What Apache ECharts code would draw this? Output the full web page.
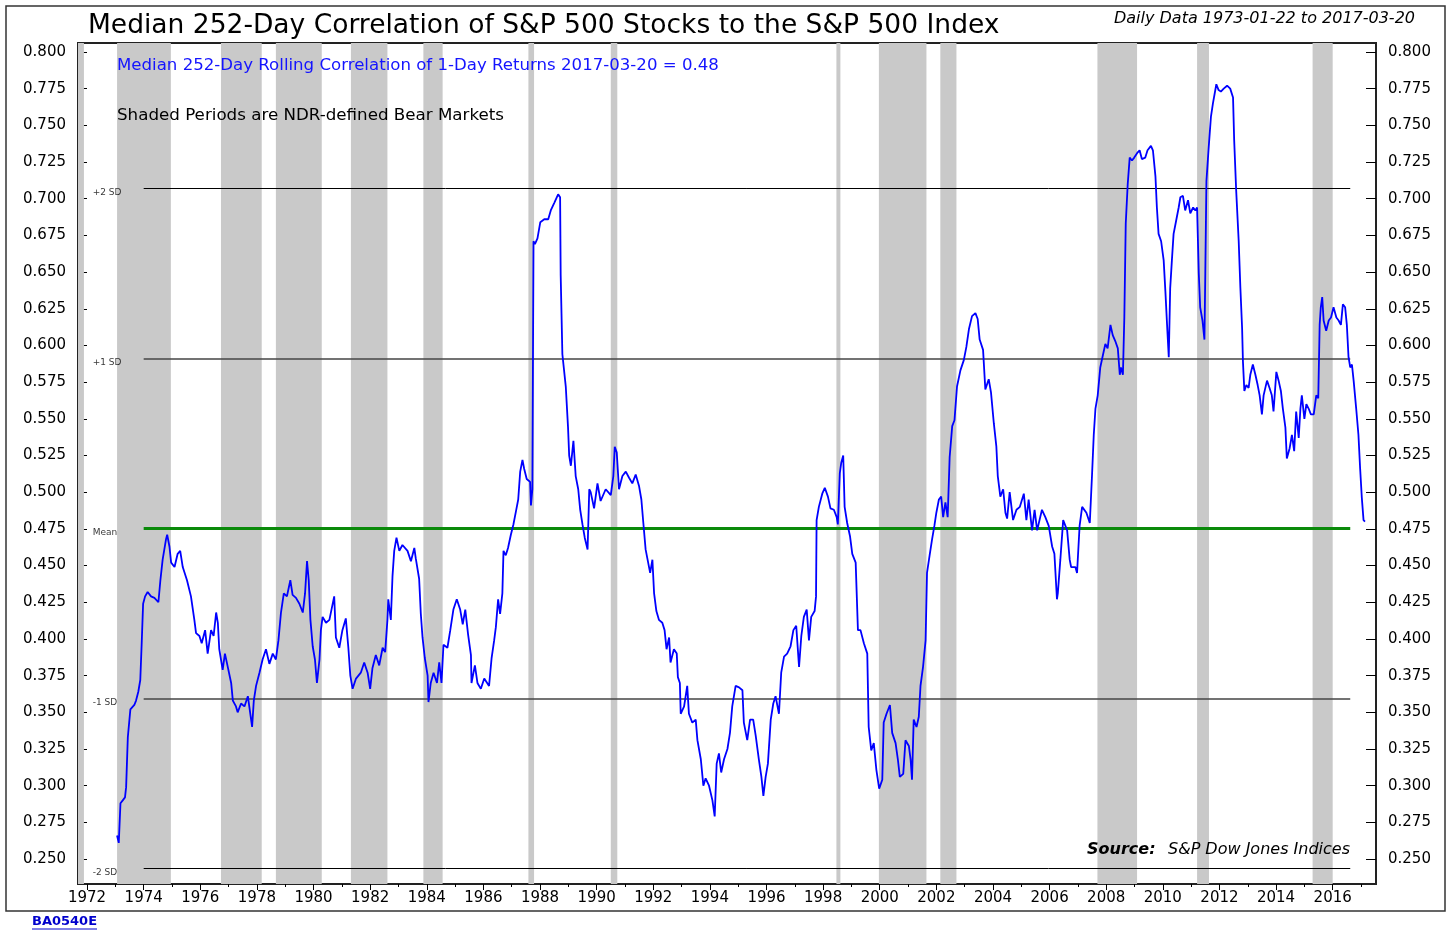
<!DOCTYPE html>
<html>
<head>
<meta charset="utf-8">
<title>Median 252-Day Correlation of S&P 500 Stocks</title>
<script src="https://cdn.jsdelivr.net/npm/echarts@6/dist/echarts.min.js"></script>
<style>
html,body{margin:0;padding:0;background:#fff;}
#chart{width:1449px;height:930px;}
</style>
</head>
<body>
<div id="chart"></div>
<script>
"use strict";
// decimal years
var years = [
  1973.06,1973.12,1973.18,1973.26,1973.34,1973.38,1973.44,1973.53,1973.67,1973.73,1973.81,1973.88,1973.93,1973.98,
  1974.05,1974.14,1974.26,1974.38,1974.52,1974.59,1974.67,1974.79,1974.83,1974.91,1974.97,1975.09,1975.20,1975.29,
  1975.38,1975.53,1975.67,1975.79,1975.85,1975.97,1976.05,1976.17,1976.26,1976.38,1976.47,1976.56,1976.62,1976.67,
  1976.79,1976.87,1976.97,1977.09,1977.15,1977.26,1977.32,1977.44,1977.56,1977.68,1977.73,1977.83,1977.89,1977.97,
  1978.09,1978.20,1978.32,1978.44,1978.56,1978.67,1978.76,1978.85,1978.95,1979.06,1979.18,1979.26,1979.38,1979.50,
  1979.62,1979.70,1979.77,1979.83,1979.89,1979.97,1980.05,1980.12,1980.21,1980.26,1980.32,1980.44,1980.56,
  1980.61,1980.73,1980.79,1980.91,1981.02,1981.14,1981.23,1981.30,1981.38,1981.50,1981.67,1981.79,1981.91,1982.00,
  1982.08,1982.20,1982.32,1982.44,1982.53,1982.61,1982.64,1982.73,1982.79,1982.85,1982.93,1983.03,1983.14,1983.32,
  1983.44,1983.56,1983.61,1983.73,1983.79,1983.85,1983.93,1984.03,1984.06,1984.14,1984.24,1984.36,1984.44,1984.52,
  1984.59,1984.73,1984.83,1984.94,1985.06,1985.18,1985.27,1985.36,1985.46,1985.56,1985.58,1985.70,1985.79,1985.91,
  1986.03,1986.20,1986.29,1986.38,1986.44,1986.52,1986.59,1986.67,1986.71,1986.79,1986.87,1986.97,1987.06,1987.16,
  1987.23,1987.30,1987.38,1987.44,1987.53,1987.65,1987.68,1987.73,1987.77,1987.82,1987.91,1988.01,1988.15,1988.29,
  1988.38,1988.50,1988.64,1988.71,1988.73,1988.79,1988.91,1988.99,1989.03,1989.09,1989.18,1989.26,1989.35,1989.42,
  1989.50,1989.58,1989.68,1989.74,
  1989.79,1989.91,1990.03,1990.14,1990.32,1990.50,1990.59,1990.64,1990.71,1990.79,1990.91,1991.03,1991.14,1991.26,
  1991.38,1991.50,1991.58,1991.65,1991.73,1991.81,1991.89,1991.97,1992.03,1992.11,1992.20,1992.32,1992.40,1992.47,
  1992.56,1992.61,1992.73,1992.83,1992.87,1992.94,1992.97,1993.09,1993.20,1993.26,1993.38,1993.50,1993.56,1993.68,
  1993.77,1993.85,1993.97,1994.09,1994.17,1994.24,1994.32,1994.40,1994.50,1994.62,1994.71,1994.79,1994.91,1995.03,
  1995.15,1995.20,1995.32,1995.42,1995.53,1995.62,1995.73,1995.82,1995.89,1995.97,1996.05,1996.15,1996.24,1996.32,
  1996.44,1996.52,1996.62,1996.73,1996.85,1996.95,1997.05,1997.15,1997.23,1997.32,1997.42,1997.50,1997.58,1997.70,
  1997.75,1997.77,1997.85,1997.97,1998.06,1998.17,1998.26,1998.38,1998.48,1998.52,1998.59,1998.64,1998.71,1998.76,
  1998.85,1998.95,1999.03,1999.15,1999.23,
  1999.32,1999.44,1999.56,1999.61,1999.70,1999.79,1999.88,1999.98,2000.09,2000.14,2000.24,2000.36,2000.44,2000.56,
  2000.64,2000.71,2000.83,2000.91,2001.03,2001.09,2001.14,2001.20,2001.30,2001.38,2001.44,2001.53,2001.62,2001.67,
  2001.77,2001.85,2001.93,2002.00,2002.09,2002.17,2002.24,2002.32,2002.40,2002.47,2002.56,2002.64,2002.73,2002.85,
  2002.97,2003.06,2003.15,2003.26,2003.38,2003.46,2003.53,2003.65,2003.73,2003.85,2003.93,2004.03,2004.12,2004.17,
  2004.26,2004.36,2004.44,2004.50,2004.59,2004.71,2004.83,2004.95,2005.09,2005.18,2005.26,2005.38,2005.47,2005.56,
  2005.73,2005.85,2005.97,2006.09,2006.17,2006.26,2006.29,2006.38,2006.48,2006.62,2006.71,2006.76,2006.91,2006.97,
  2007.06,2007.15,2007.30,2007.42,
  2007.50,2007.56,2007.62,2007.70,2007.79,2007.89,2007.97,2008.05,2008.15,2008.23,2008.32,2008.41,2008.48,2008.52,
  2008.59,2008.64,2008.69,2008.76,2008.83,2008.91,2008.99,2009.09,2009.18,2009.26,2009.38,2009.46,2009.58,2009.65,
  2009.74,2009.79,2009.85,2009.94,2010.03,2010.09,2010.15,2010.21,2010.26,2010.32,2010.38,2010.47,2010.56,2010.62,
  2010.71,2010.79,2010.89,2010.97,2011.07,2011.15,2011.21,2011.27,2011.32,2011.40,2011.47,2011.50,2011.54,2011.62,
  2011.70,2011.77,2011.89,2011.97,2012.05,2012.15,2012.27,2012.38,2012.48,2012.52,2012.59,2012.68,2012.74,2012.80,
  2012.83,2012.88,2012.95,2013.03,2013.09,2013.18,2013.27,2013.35,2013.42,2013.50,2013.56,2013.68,2013.77,2013.85,
  2013.91,2014.01,2014.09,2014.17,2014.24,2014.33,2014.38,2014.48,2014.56,2014.64,2014.71,2014.80,2014.86,2014.91,
  2015.00,2015.07,2015.15,2015.23,2015.33,2015.42,2015.49,2015.54,2015.58,2015.63,2015.68,2015.77,2015.86,2015.94,
  2016.03,2016.13,2016.21,2016.29,2016.36,2016.44,2016.50,2016.56,2016.62,2016.68,2016.74,2016.83,2016.91,2016.97,
  2017.03,2017.09,2017.14
];
var corr = [
  0.266,0.261,0.288,0.290,0.292,0.299,0.333,0.352,0.355,0.358,0.364,0.372,0.397,0.424,
  0.429,0.432,0.429,0.428,0.425,0.440,0.454,0.468,0.471,0.463,0.452,0.449,0.458,0.460,
  0.449,0.440,0.429,0.413,0.404,0.402,0.397,0.406,0.390,0.406,0.402,0.418,0.411,0.393,
  0.379,0.390,0.381,0.370,0.358,0.354,0.350,0.356,0.354,0.361,0.354,0.340,0.358,0.368,
  0.377,0.386,0.393,0.383,0.390,0.386,0.399,0.418,0.431,0.429,0.440,0.430,0.428,0.424,
  0.418,0.431,0.453,0.440,0.413,0.395,0.386,0.370,0.386,0.406,0.415,0.411,0.413,
  0.413,0.429,0.401,0.394,0.406,0.414,0.394,0.375,0.366,0.373,0.377,0.384,0.377,0.366,
  0.380,0.389,0.382,0.394,0.391,0.413,0.427,0.413,0.443,0.460,0.469,0.460,0.464,0.460,
  0.453,0.462,0.455,0.441,0.417,0.401,0.387,0.375,0.357,0.370,0.377,0.370,0.384,0.370,
  0.396,0.394,0.406,0.420,0.427,0.420,0.410,0.420,0.403,0.389,0.370,0.382,0.370,0.366,
  0.373,0.368,0.387,0.399,0.408,0.427,0.417,0.431,0.460,0.457,0.462,0.471,0.478,0.488,
  0.495,0.514,0.522,0.516,0.509,0.507,0.491,0.502,0.671,0.669,0.673,0.684,0.686,0.686,
  0.692,0.697,0.703,0.701,0.648,0.594,0.572,0.544,0.525,0.518,0.535,0.511,0.502,0.488,
  0.478,0.469,0.461,0.502,
  0.500,0.489,0.506,0.494,0.502,0.498,0.511,0.531,0.527,0.502,0.511,0.514,0.510,0.506,
  0.512,0.504,0.495,0.479,0.461,0.453,0.445,0.454,0.431,0.419,0.413,0.411,0.406,0.393,
  0.401,0.384,0.393,0.390,0.374,0.370,0.349,0.354,0.368,0.349,0.343,0.345,0.331,0.318,
  0.300,0.305,0.300,0.290,0.279,0.315,0.322,0.309,0.318,0.325,0.336,0.354,0.368,0.367,
  0.365,0.343,0.331,0.345,0.345,0.334,0.318,0.306,0.293,0.306,0.315,0.345,0.356,0.361,
  0.349,0.377,0.388,0.390,0.395,0.406,0.409,0.381,0.402,0.415,0.420,0.399,0.415,0.419,
  0.429,0.481,0.490,0.499,0.503,0.497,0.489,0.488,0.483,0.478,0.513,0.520,0.525,0.490,
  0.479,0.470,0.458,0.452,0.406,
  0.406,0.397,0.390,0.340,0.324,0.329,0.311,0.298,0.304,0.343,0.349,0.355,0.336,0.329,
  0.318,0.306,0.308,0.331,0.327,0.318,0.304,0.345,0.340,0.347,0.368,0.381,0.399,0.445,
  0.458,0.468,0.477,0.486,0.495,0.497,0.483,0.493,0.483,0.524,0.545,0.549,0.572,0.583,
  0.590,0.599,0.611,0.620,0.622,0.618,0.604,0.597,0.570,0.577,0.568,0.547,0.531,0.511,
  0.497,0.502,0.486,0.482,0.500,0.481,0.488,0.490,0.499,0.481,0.495,0.474,0.488,0.474,
  0.488,0.483,0.477,0.463,0.458,0.427,0.431,0.454,0.481,0.474,0.454,0.449,0.449,0.445,
  0.477,0.490,0.486,0.479,
  0.512,0.539,0.557,0.566,0.585,0.594,0.601,0.598,0.614,0.607,0.603,0.598,0.580,0.585,
  0.580,0.619,0.683,0.710,0.728,0.726,0.728,0.731,0.733,0.727,0.728,0.733,0.736,0.733,
  0.715,0.694,0.676,0.671,0.658,0.637,0.614,0.592,0.639,0.658,0.676,0.685,0.694,0.701,
  0.702,0.692,0.699,0.690,0.694,0.692,0.694,0.649,0.626,0.617,0.604,0.649,0.712,0.735,
  0.756,0.765,0.778,0.774,0.773,0.775,0.777,0.775,0.769,0.740,0.706,0.671,0.639,0.612,
  0.589,0.569,0.573,0.571,0.580,0.587,0.580,0.573,0.566,0.553,0.566,0.576,0.571,0.566,
  0.555,0.582,0.576,0.569,0.557,0.544,0.523,0.530,0.539,0.528,0.555,0.537,0.557,0.566,
  0.550,0.560,0.557,0.553,0.553,0.566,0.564,0.614,0.626,0.633,0.617,0.610,0.617,0.619,
  0.626,0.619,0.617,0.614,0.628,0.626,0.614,0.592,0.585,0.587,0.576,0.557,0.539,0.516,
  0.496,0.481,0.480
];

// NDR bear markets (decimal years)
var bearStart = [1971.32,1973.06,1976.73,1978.67,1981.32,1983.88,1987.59,1990.50,1998.47,1999.97,2002.14,2007.69,2011.21,2015.29];
var bearEnd   = [1971.89,1974.96,1978.17,1980.29,1982.61,1984.56,1987.79,1990.73,1998.61,2001.65,2002.71,2009.09,2011.63,2016.00];

// mean and standard-deviation bands
var refNames  = ['+2 SD', '+1 SD', 'Mean', '-1 SD', '-2 SD'];
var refValues = [0.7068, 0.5910, 0.4752, 0.3594, 0.2436];
var refStart = 1974.0, refEnd = 2016.62, refLabelX = 1972.2;

var xLabels = [1972,1974,1976,1978,1980,1982,1984,1986,1988,1990,1992,1994,1996,1998,2000,2002,2004,2006,2008,2010,2012,2014,2016];
var xMinorTicks = [1973,1975,1977,1979,1981,1983,1985,1987,1989,1991,1993,1995,1997,1999,2001,2003,2005,2007,2009,2011,2013,2015,2017];
var yLabels = [0.250,0.275,0.300,0.325,0.350,0.375,0.400,0.425,0.450,0.475,0.500,0.525,0.550,0.575,0.600,0.625,0.650,0.675,0.700,0.725,0.750,0.775,0.800];

var xMin = 1971.68, xMax = 2017.53;
var yMin = 0.2330, yMax = 0.8061;

var FONT = '"DejaVu Sans", sans-serif';

var lineData = years.map(function (y, i) { return [y, corr[i]]; });
var bearAreas = bearStart.map(function (s, i) {
    return [{ xAxis: Math.max(s, xMin) }, { xAxis: bearEnd[i] }];
});
var refStyles = [
    { color: '#000', width: 1, type: 'solid' },
    { color: '#444', width: 1.5, type: 'solid' },
    { color: '#0a8a0a', width: 3, type: 'solid' },
    { color: '#444', width: 1.5, type: 'solid' },
    { color: '#000', width: 1, type: 'solid' }
];
var refLines = refValues.map(function (v, i) {
    return [{ coord: [refStart, v], lineStyle: refStyles[i] }, { coord: [refEnd, v] }];
});
var refLabels = refValues.map(function (v, i) {
    return { name: refNames[i], value: [refLabelX, v] };
});

function yAxisCfg(pos, tickLen) {
    return {
        type: 'value', position: pos, min: yMin, max: yMax,
        axisLine: { show: false },
        axisTick: { show: true, inside: true, length: tickLen, customValues: yLabels, lineStyle: { color: '#000', width: 1 } },
        axisLabel: {
            customValues: yLabels, margin: 12, fontSize: 15, color: '#000', fontFamily: FONT,
            formatter: function (v) { return v.toFixed(3); }
        },
        splitLine: { show: false }
    };
}

var chart = echarts.init(document.getElementById('chart'));
chart.setOption({
    animation: false,
    backgroundColor: '#fff',
    grid: { left: 78, right: 73, top: 43, bottom: 46, show: true, borderColor: '#222', borderWidth: 2, backgroundColor: 'transparent' },
    xAxis: [{
        type: 'value', min: xMin, max: xMax, position: 'bottom',
        axisLine: { show: false },
        axisTick: { show: true, length: 6, customValues: xLabels, lineStyle: { color: '#000' } },
        axisLabel: { customValues: xLabels, margin: 7, fontSize: 15, color: '#000', fontFamily: FONT, formatter: function (v) { return String(v); } },
        splitLine: { show: false }
    }, {
        type: 'value', min: xMin, max: xMax, position: 'bottom',
        axisLine: { show: false },
        axisTick: { show: true, length: 3, customValues: xMinorTicks, lineStyle: { color: '#000' } },
        axisLabel: { show: false },
        splitLine: { show: false }
    }],
    yAxis: [yAxisCfg('left', 9), yAxisCfg('right', 10)],
    series: [{
        name: 'bears', type: 'line', data: [], z: 1, silent: true,
        markArea: { silent: true, itemStyle: { color: '#c9c9c9' }, data: bearAreas }
    }, {
        name: 'bands', type: 'line', data: [], z: 3, silent: true,
        markLine: { silent: true, symbol: ['none', 'none'], label: { show: false }, lineStyle: { type: 'solid' }, data: refLines }
    }, {
        name: 'bandLabels', type: 'scatter', data: refLabels, symbolSize: 0, z: 4, silent: true,
        label: { show: true, position: 'right', distance: 0, offset: [0, 4], formatter: '{b}', fontSize: 9, color: '#000', fontFamily: FONT }
    }, {
        name: 'Median 252-Day Rolling Correlation', type: 'line', data: lineData, z: 5,
        showSymbol: false, symbol: 'none',
        lineStyle: { color: '#0000ff', width: 1.8 }
    }],
    graphic: [
        { type: 'rect', shape: { x: 6, y: 6, width: 1439, height: 905 }, style: { fill: 'none', stroke: '#333', lineWidth: 1.5 }, z: 0 },
        { type: 'text', x: 88, y: 26, style: { text: 'Median 252-Day Correlation of S&P 500 Stocks to the S&P 500 Index', font: '26.5px ' + FONT, fill: '#000', align: 'left', verticalAlign: 'middle' } },
        { type: 'text', x: 1415, y: 19, style: { text: 'Daily Data 1973-01-22 to 2017-03-20', font: 'italic 16px ' + FONT, fill: '#000', align: 'right', verticalAlign: 'middle' } },
        { type: 'text', x: 117, y: 66, z: 10, style: { text: 'Median 252-Day Rolling Correlation of 1-Day Returns 2017-03-20 = 0.48', font: '16.6px ' + FONT, fill: '#1414ff', align: 'left', verticalAlign: 'middle' } },
        { type: 'text', x: 117, y: 116, z: 10, style: { text: 'Shaded Periods are NDR-defined Bear Markets', font: '16.7px ' + FONT, fill: '#000', align: 'left', verticalAlign: 'middle' } },
        { type: 'text', x: 1087, y: 850, z: 10, style: { text: 'Source:', font: 'italic bold 16px ' + FONT, fill: '#000', align: 'left', verticalAlign: 'middle' } },
        { type: 'text', x: 1350, y: 850, z: 10, style: { text: 'S&P Dow Jones Indices', font: 'italic 16px ' + FONT, fill: '#000', align: 'right', verticalAlign: 'middle' } },
        { type: 'text', x: 32, y: 922, style: { text: 'BA0540E', font: 'bold 13px ' + FONT, fill: '#0000cc', align: 'left', verticalAlign: 'middle' } },
        { type: 'line', shape: { x1: 32, y1: 929, x2: 97, y2: 929 }, style: { stroke: '#0000cc', lineWidth: 1 } }
    ]
});
</script>
</body>
</html>
